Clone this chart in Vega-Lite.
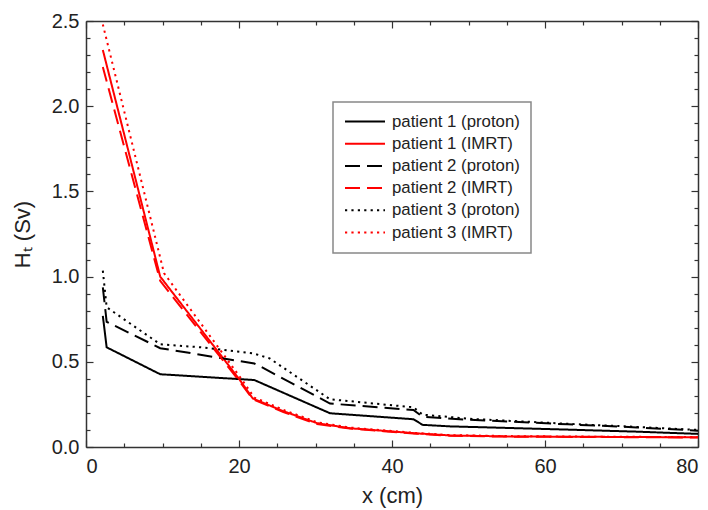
{
  "$schema": "https://vega.github.io/schema/vega-lite/v6.json",
  "width": 612,
  "height": 426,
  "autosize": {"type": "none"},
  "padding": {"left": 86, "top": 21, "right": 10, "bottom": 63},
  "config": {
    "view": {"stroke": null},
    "axis": {
      "grid": false,
      "domainColor": "#333333",
      "domainWidth": 1.5,
      "tickColor": "#333333",
      "tickWidth": 1.2,
      "labelFont": "Liberation Sans",
      "labelFontSize": 20,
      "labelColor": "#222222",
      "titleFont": "Liberation Sans",
      "titleFontSize": 22,
      "titleFontWeight": "normal",
      "titleColor": "#222222"
    },
    "legend": {
      "orient": "none",
      "legendX": 247,
      "legendY": 81,
      "padding": 11,
      "strokeColor": "#888888",
      "strokeWidth": 1.5,
      "fillColor": "#ffffff",
      "symbolType": "stroke",
      "symbolSize": 1600,
      "symbolStrokeWidth": 2,
      "clipHeight": 17,
      "rowPadding": 4.2,
      "labelOffset": 6,
      "labelFont": "Liberation Sans",
      "labelFontSize": 16.8,
      "labelColor": "#222222",
      "labelLimit": 300
    }
  },
  "data": {
    "values": [
      {"series": "patient 1 (proton)", "x": 2.2, "y": 0.77},
      {"series": "patient 1 (proton)", "x": 2.7, "y": 0.585},
      {"series": "patient 1 (proton)", "x": 9.7, "y": 0.427},
      {"series": "patient 1 (proton)", "x": 22, "y": 0.393},
      {"series": "patient 1 (proton)", "x": 31.9, "y": 0.198},
      {"series": "patient 1 (proton)", "x": 42.8, "y": 0.163},
      {"series": "patient 1 (proton)", "x": 44, "y": 0.13},
      {"series": "patient 1 (proton)", "x": 47.6, "y": 0.121},
      {"series": "patient 1 (proton)", "x": 55, "y": 0.112},
      {"series": "patient 1 (proton)", "x": 63, "y": 0.102},
      {"series": "patient 1 (proton)", "x": 72, "y": 0.09},
      {"series": "patient 1 (proton)", "x": 80, "y": 0.077},

      {"series": "patient 1 (IMRT)", "x": 2.2, "y": 2.33},
      {"series": "patient 1 (IMRT)", "x": 9.7, "y": 1.0},
      {"series": "patient 1 (IMRT)", "x": 20, "y": 0.4},
      {"series": "patient 1 (IMRT)", "x": 21.8, "y": 0.285},
      {"series": "patient 1 (IMRT)", "x": 25.8, "y": 0.21},
      {"series": "patient 1 (IMRT)", "x": 30.2, "y": 0.14},
      {"series": "patient 1 (IMRT)", "x": 34.5, "y": 0.11},
      {"series": "patient 1 (IMRT)", "x": 38.9, "y": 0.095},
      {"series": "patient 1 (IMRT)", "x": 43.2, "y": 0.08},
      {"series": "patient 1 (IMRT)", "x": 47.6, "y": 0.068},
      {"series": "patient 1 (IMRT)", "x": 55, "y": 0.062},
      {"series": "patient 1 (IMRT)", "x": 65, "y": 0.06},
      {"series": "patient 1 (IMRT)", "x": 80, "y": 0.057},

      {"series": "patient 2 (proton)", "x": 2.2, "y": 0.937},
      {"series": "patient 2 (proton)", "x": 2.7, "y": 0.735},
      {"series": "patient 2 (proton)", "x": 9.7, "y": 0.58},
      {"series": "patient 2 (proton)", "x": 22, "y": 0.49},
      {"series": "patient 2 (proton)", "x": 22.9, "y": 0.47},
      {"series": "patient 2 (proton)", "x": 31.9, "y": 0.255},
      {"series": "patient 2 (proton)", "x": 42.8, "y": 0.217},
      {"series": "patient 2 (proton)", "x": 44, "y": 0.178},
      {"series": "patient 2 (proton)", "x": 50, "y": 0.16},
      {"series": "patient 2 (proton)", "x": 63, "y": 0.133},
      {"series": "patient 2 (proton)", "x": 72, "y": 0.115},
      {"series": "patient 2 (proton)", "x": 80, "y": 0.096},

      {"series": "patient 2 (IMRT)", "x": 2.2, "y": 2.23},
      {"series": "patient 2 (IMRT)", "x": 9.7, "y": 0.975},
      {"series": "patient 2 (IMRT)", "x": 20, "y": 0.39},
      {"series": "patient 2 (IMRT)", "x": 21.8, "y": 0.28},
      {"series": "patient 2 (IMRT)", "x": 25.8, "y": 0.205},
      {"series": "patient 2 (IMRT)", "x": 30.2, "y": 0.135},
      {"series": "patient 2 (IMRT)", "x": 34.5, "y": 0.108},
      {"series": "patient 2 (IMRT)", "x": 38.9, "y": 0.093},
      {"series": "patient 2 (IMRT)", "x": 43.2, "y": 0.078},
      {"series": "patient 2 (IMRT)", "x": 47.6, "y": 0.066},
      {"series": "patient 2 (IMRT)", "x": 55, "y": 0.061},
      {"series": "patient 2 (IMRT)", "x": 65, "y": 0.059},
      {"series": "patient 2 (IMRT)", "x": 80, "y": 0.056},

      {"series": "patient 3 (proton)", "x": 2.2, "y": 1.035},
      {"series": "patient 3 (proton)", "x": 2.7, "y": 0.82},
      {"series": "patient 3 (proton)", "x": 9.7, "y": 0.603},
      {"series": "patient 3 (proton)", "x": 15, "y": 0.585},
      {"series": "patient 3 (proton)", "x": 22, "y": 0.548},
      {"series": "patient 3 (proton)", "x": 24, "y": 0.52},
      {"series": "patient 3 (proton)", "x": 31.9, "y": 0.28},
      {"series": "patient 3 (proton)", "x": 42.8, "y": 0.233},
      {"series": "patient 3 (proton)", "x": 44, "y": 0.19},
      {"series": "patient 3 (proton)", "x": 50, "y": 0.166},
      {"series": "patient 3 (proton)", "x": 63, "y": 0.136},
      {"series": "patient 3 (proton)", "x": 72, "y": 0.118},
      {"series": "patient 3 (proton)", "x": 80, "y": 0.1},

      {"series": "patient 3 (IMRT)", "x": 2.2, "y": 2.48},
      {"series": "patient 3 (IMRT)", "x": 10.2, "y": 1.02},
      {"series": "patient 3 (IMRT)", "x": 20.3, "y": 0.4},
      {"series": "patient 3 (IMRT)", "x": 22, "y": 0.29},
      {"series": "patient 3 (IMRT)", "x": 26, "y": 0.215},
      {"series": "patient 3 (IMRT)", "x": 30.2, "y": 0.145},
      {"series": "patient 3 (IMRT)", "x": 34.5, "y": 0.114},
      {"series": "patient 3 (IMRT)", "x": 38.9, "y": 0.098},
      {"series": "patient 3 (IMRT)", "x": 43.2, "y": 0.082},
      {"series": "patient 3 (IMRT)", "x": 47.6, "y": 0.07},
      {"series": "patient 3 (IMRT)", "x": 55, "y": 0.064},
      {"series": "patient 3 (IMRT)", "x": 65, "y": 0.061},
      {"series": "patient 3 (IMRT)", "x": 80, "y": 0.058}
    ]
  },
  "layer": [
    {
      "mark": {"type": "line", "strokeWidth": 2, "clip": true},
      "encoding": {
        "x": {
          "field": "x", "type": "quantitative",
          "scale": {"domain": [0, 80], "nice": false, "zero": false},
          "axis": {"orient": "bottom", "values": [0, 20, 40, 60, 80], "tickSize": -7, "labelPadding": 16, "title": "x (cm)", "titlePadding": 9}
        },
        "y": {
          "field": "y", "type": "quantitative",
          "scale": {"domain": [0, 2.5], "nice": false, "zero": false},
          "axis": {"orient": "left", "values": [0, 0.5, 1, 1.5, 2, 2.5], "format": ".1f", "tickSize": -7, "labelPadding": 14, "title": "Hₜ (Sv)", "titlePadding": 17}
        },
        "color": {
          "field": "series", "type": "nominal",
          "scale": {
            "domain": ["patient 1 (proton)", "patient 1 (IMRT)", "patient 2 (proton)", "patient 2 (IMRT)", "patient 3 (proton)", "patient 3 (IMRT)"],
            "range": ["#000000", "#ff0000", "#000000", "#ff0000", "#000000", "#ff0000"]
          },
          "legend": {"title": null}
        },
        "strokeDash": {
          "field": "series", "type": "nominal",
          "scale": {
            "domain": ["patient 1 (proton)", "patient 1 (IMRT)", "patient 2 (proton)", "patient 2 (IMRT)", "patient 3 (proton)", "patient 3 (IMRT)"],
            "range": [[1, 0], [1, 0], [15, 7], [15, 7], [2.2, 4.2], [2.2, 4.2]]
          },
          "legend": {"title": null}
        }
      }
    },
    {
      "mark": {"type": "line", "strokeOpacity": 0},
      "encoding": {
        "detail": {"field": "series"},
        "x": {"field": "x", "type": "quantitative",
          "axis": {"orient": "bottom", "values": [5, 10, 15, 25, 30, 35, 45, 50, 55, 65, 70, 75], "tickSize": -4, "labels": false, "domain": false, "title": null}},
        "y": {"field": "y", "type": "quantitative",
          "axis": {"orient": "left", "values": [0.1, 0.2, 0.3, 0.4, 0.6, 0.7, 0.8, 0.9, 1.1, 1.2, 1.3, 1.4, 1.6, 1.7, 1.8, 1.9, 2.1, 2.2, 2.3, 2.4], "tickSize": -4, "labels": false, "domain": false, "title": null}}
      }
    },
    {
      "mark": {"type": "line", "strokeOpacity": 0},
      "encoding": {
        "detail": {"field": "series"},
        "x": {"field": "x", "type": "quantitative",
          "axis": {"orient": "top", "values": [0, 20, 40, 60, 80], "tickSize": -7, "labels": false, "title": null}},
        "y": {"field": "y", "type": "quantitative",
          "axis": {"orient": "right", "values": [0, 0.5, 1, 1.5, 2, 2.5], "tickSize": -7, "labels": false, "title": null}}
      }
    },
    {
      "mark": {"type": "line", "strokeOpacity": 0},
      "encoding": {
        "detail": {"field": "series"},
        "x": {"field": "x", "type": "quantitative",
          "axis": {"orient": "top", "values": [5, 10, 15, 25, 30, 35, 45, 50, 55, 65, 70, 75], "tickSize": -4, "labels": false, "domain": false, "title": null}},
        "y": {"field": "y", "type": "quantitative",
          "axis": {"orient": "right", "values": [0.1, 0.2, 0.3, 0.4, 0.6, 0.7, 0.8, 0.9, 1.1, 1.2, 1.3, 1.4, 1.6, 1.7, 1.8, 1.9, 2.1, 2.2, 2.3, 2.4], "tickSize": -4, "labels": false, "domain": false, "title": null}}
      }
    }
  ],
  "resolve": {"axis": {"x": "independent", "y": "independent"}}
}
